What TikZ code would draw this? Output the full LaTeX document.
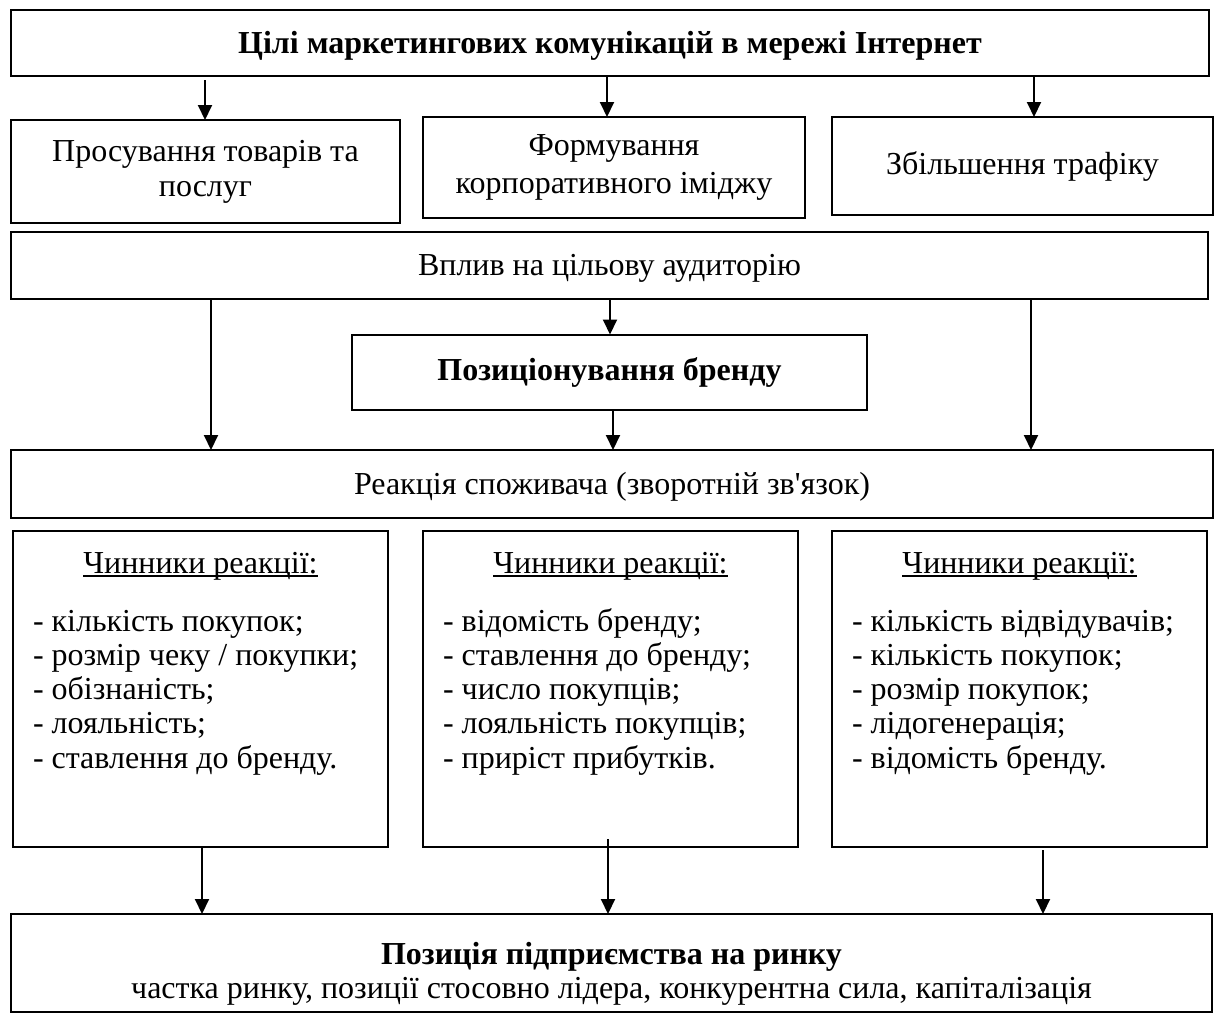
\documentclass[tikz,border=0pt]{standalone}
\usepackage{fontspec}
\setmainfont{Liberation Serif}
\usetikzlibrary{arrows.meta}
\newcommand{\myul}[1]{\setbox0=\hbox{#1}\rlap{\rule[-3.5pt]{\wd0}{1.4pt}}\box0}
\newcommand{\lowr}[2]{\raisebox{-#1}[\height][\depth]{#2}}
\begin{document}
\begin{tikzpicture}[x=1pt, y=-1pt,
  txt/.style={font=\fontsize{32}{35}\selectfont},
  bftxt/.style={font=\fontsize{32}{35}\selectfont\bfseries},
  lsttxt/.style={font=\fontsize{32}{34.3}\selectfont},
  box/.style={draw, line width=2pt, inner sep=0pt, outer sep=0pt, align=center, txt},
  plain/.style={inner sep=0pt, outer sep=0pt, txt},
  arr/.style={-{Triangle[length=15pt,width=14pt]}, line width=2pt}]
\fill[white] (0,0) rectangle (1219,1023);
\useasboundingbox (0,0) rectangle (1219,1023);

% boxes
\node[box, bftxt, minimum width=1198pt, minimum height=66pt] (top) at (610,43)
  {\lowr{3pt}{Цілі маркетингових комунікацій в мережі Інтернет}};
\node[box, minimum width=389pt, minimum height=103pt] (A) at (205.5,171.5)
  {Просування товарів та\\послуг};
\node[box, minimum width=382pt, minimum height=101pt] (B) at (614,167.5)
  {Формування\\[3pt]корпоративного іміджу};
\node[box, minimum width=381pt, minimum height=98pt] (C) at (1022.5,166)
  {Збільшення трафіку};
\node[box, minimum width=1197pt, minimum height=67pt] (V) at (609.5,265.5)
  {\lowr{3pt}{Вплив на цільову аудиторію}};
\node[box, bftxt, minimum width=515pt, minimum height=75pt] (P) at (609.5,372)
  {Позиціонування бренду};
\node[box, minimum width=1202pt, minimum height=68pt] (R) at (612,484)
  {\lowr{3pt}{Реакція споживача (зворотній зв\textquotesingle язок)}};
\node[box, minimum width=375pt, minimum height=316pt] (F1) at (200.5,689) {};
\node[box, minimum width=375pt, minimum height=316pt] (F2) at (610.5,689) {};
\node[box, minimum width=375pt, minimum height=316pt] (F3) at (1019.5,689) {};
\node[box, minimum width=1201pt, minimum height=98pt] (M) at (611.5,963) {};
\node[plain, bftxt, anchor=base] (mt1) at (611.5,964) {Позиція підприємства на ринку};
\node[plain, anchor=base] (mt2) at (611.5,998)
  {частка ринку, позиції стосовно лідера, конкурентна сила, капіталізація};

% factor texts
\node[plain, anchor=base] (h1) at (200.5,573) {\myul{Чинники реакції:}};
\node[plain, anchor=base] (h2) at (610.5,573) {\myul{Чинники реакції:}};
\node[plain, anchor=base] (h3) at (1019.5,573) {\myul{Чинники реакції:}};
\node[plain, lsttxt, anchor=north west, align=left] (l1) at (33,607)
  {\strut- кількість покупок;\\\strut- розмір чеку / покупки;\\\strut- обізнаність;\\\strut- лояльність;\\\strut- ставлення до бренду.};
\node[plain, lsttxt, anchor=north west, align=left] (l2) at (443,607)
  {\strut- відомість бренду;\\\strut- ставлення до бренду;\\\strut- число покупців;\\\strut- лояльність покупців;\\\strut- приріст прибутків.};
\node[plain, lsttxt, anchor=north west, align=left] (l3) at (852,607)
  {\strut- кількість відвідувачів;\\\strut- кількість покупок;\\\strut- розмір покупок;\\\strut- лідогенерація;\\\strut- відомість бренду.};

% arrow columns
\coordinate (c1) at (205,0);
\coordinate (c2) at (607,0);
\coordinate (c3) at (1034,0);
\coordinate (c4) at (211,0);
\coordinate (c5) at (610,0);
\coordinate (c6) at (1031,0);
\coordinate (c7) at (613,0);
\coordinate (c8) at (202,0);
\coordinate (c9) at (608,0);
\coordinate (c10) at (1043,0);

% connectors
\draw[arr] ([yshift=-4pt]top.south -| c1) -- (A.north -| c1);
\draw[arr] (top.south -| c2) -- (B.north -| c2);
\draw[arr] (top.south -| c3) -- (C.north -| c3);
\draw[arr] (V.south -| c4) -- (R.north -| c4);
\draw[arr] (V.south -| c5) -- (P.north -| c5);
\draw[arr] (V.south -| c6) -- (R.north -| c6);
\draw[arr] (P.south -| c7) -- (R.north -| c7);
\draw[arr] (F1.south -| c8) -- (M.north -| c8);
\draw[arr] ([yshift=8pt]F2.south -| c9) -- (M.north -| c9);
\draw[arr] ([yshift=-3pt]F3.south -| c10) -- (M.north -| c10);
\end{tikzpicture}
\end{document}
